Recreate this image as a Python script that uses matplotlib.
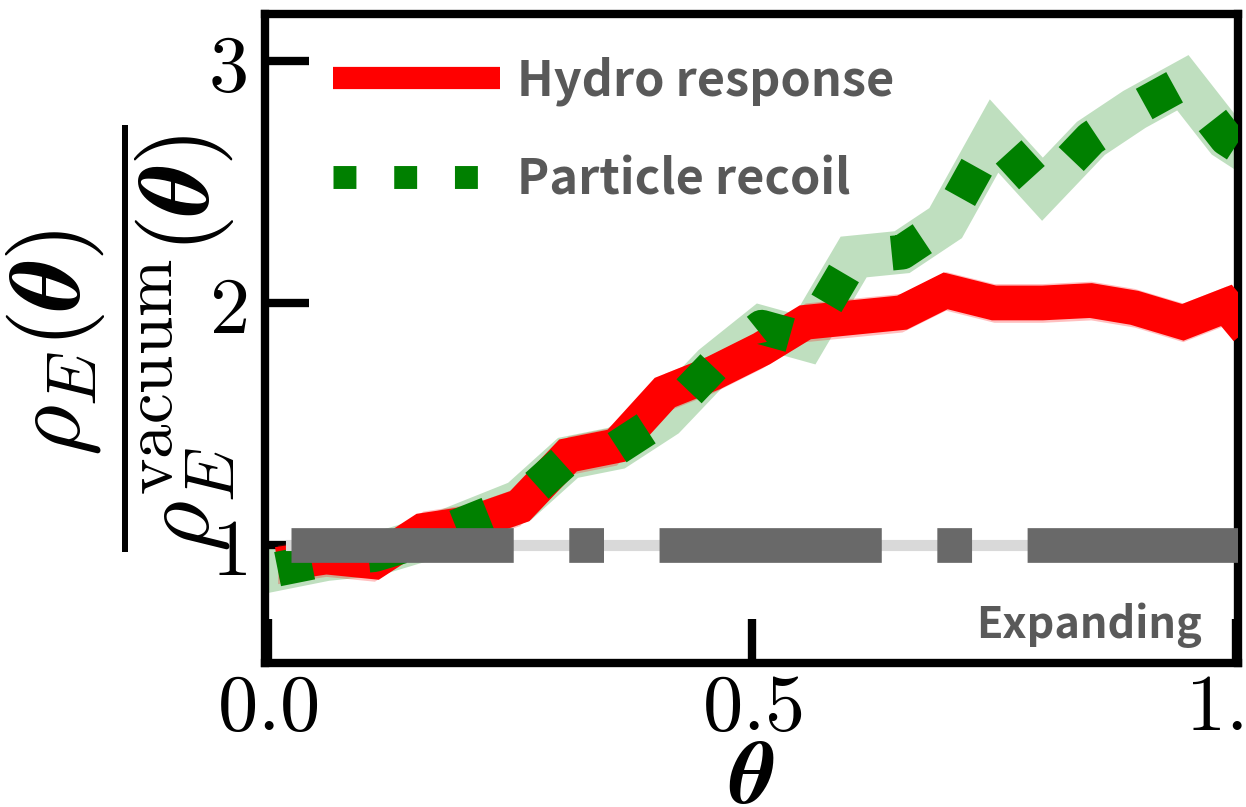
import numpy as np
import matplotlib.pyplot as plt
from matplotlib.lines import Line2D

plt.rcParams['mathtext.fontset'] = 'cm'

# angular bins (theta) and the two energy-density ratios
theta = [0.01, 0.06, 0.11, 0.16, 0.21, 0.26, 0.31, 0.36, 0.41, 0.46, 0.51,
         0.555, 0.605, 0.655, 0.70, 0.75, 0.80, 0.85, 0.895, 0.945, 0.99, 1.04]
hydro = [0.92, 0.95, 0.93, 1.06, 1.09, 1.16, 1.37, 1.41, 1.63, 1.71, 1.81,
         1.92, 1.94, 1.96, 2.05, 2.00, 2.00, 2.01, 1.98, 1.92, 1.99, 1.75]
recoil = [0.90, 0.94, 0.96, 1.02, 1.10, 1.18, 1.36, 1.40, 1.53, 1.74, 1.90,
          1.85, 2.19, 2.21, 2.33, 2.69, 2.47, 2.68, 2.80, 2.91, 2.68, 2.55]
hydro_err = 0.08

# "Expanding" reference band
expand_x = [0.024, 1.01]
expand_y = [1.0, 1.0]

labels = ['Hydro response', 'Particle recoil']
xticks = [0.0, 0.5, 1.0]
xticklabels = ['$0.0$', '$0.5$', '$1.0$']
yticks = [1, 2, 3]
yticklabels = ['$1$', '$2$', '$3$']

text_gray = '#595959'

fig = plt.figure(figsize=(12.46, 8.07), dpi=100)
ax = fig.add_axes([0.2127, 0.1784, 0.7809, 0.8042])

# error band of particle recoil
ax.plot(theta, recoil, color='green', alpha=0.25, lw=31,
        solid_joinstyle='miter', zorder=1)
h = np.array(hydro)
ax.fill_between(theta, h - hydro_err, h + hydro_err, color='red', alpha=0.25,
                lw=0, zorder=2)
ax.plot(theta, hydro, color='red', lw=25, solid_joinstyle='miter',
        solid_capstyle='butt', zorder=3)
ax.plot(theta, recoil, color='green', lw=25, ls=':', zorder=4)
ax.plot(expand_x, expand_y, color='#d9d9d9', lw=8, zorder=5)
ax.plot(expand_x, expand_y, color='#696969', lw=25, ls='-.', zorder=6)

ax.set_xlim(-0.003, 1.002)
ax.set_ylim(0.512, 3.194)

ax.set_xticks(xticks)
ax.set_xticklabels(xticklabels, fontsize=58)
ax.set_yticks(yticks)
ax.set_yticklabels(yticklabels, fontsize=58)
ax.tick_params(axis='x', direction='in', length=32, width=6, pad=4)
ax.tick_params(axis='y', direction='in', length=32, width=6, pad=13)
for s in ax.spines.values():
    s.set_linewidth(6)

ax.set_xlabel(r'$\boldsymbol{\theta}$', fontsize=64)
ax.xaxis.set_label_coords(0.5, -0.111)
ax.set_ylabel(r'$\dfrac{\boldsymbol{\rho_E(\theta)}}{\boldsymbol{\rho_E^{\mathrm{vacuum}}(\theta)}}$',
              fontsize=71)
ax.yaxis.set_label_coords(-0.029, 0.5)

handles = [Line2D([], [], color='red', lw=16, solid_capstyle='butt'),
           Line2D([], [], color='green', lw=16.5, ls=':')]
ax.legend(handles, labels, loc='upper left', bbox_to_anchor=(0.0699, 0.935),
          frameon=False, borderpad=0, borderaxespad=0, handlelength=3.44,
          handletextpad=0.35, labelspacing=1.02, labelcolor=text_gray,
          prop={'family': 'Noto Sans CJK SC', 'weight': 'bold', 'size': 35})

ax.text(0.963, 0.0385, 'Expanding', transform=ax.transAxes, ha='right',
        va='baseline', color=text_gray, fontsize=31,
        family='Noto Sans CJK SC', weight='bold', zorder=7)

fig.savefig('out.png', dpi=100)
